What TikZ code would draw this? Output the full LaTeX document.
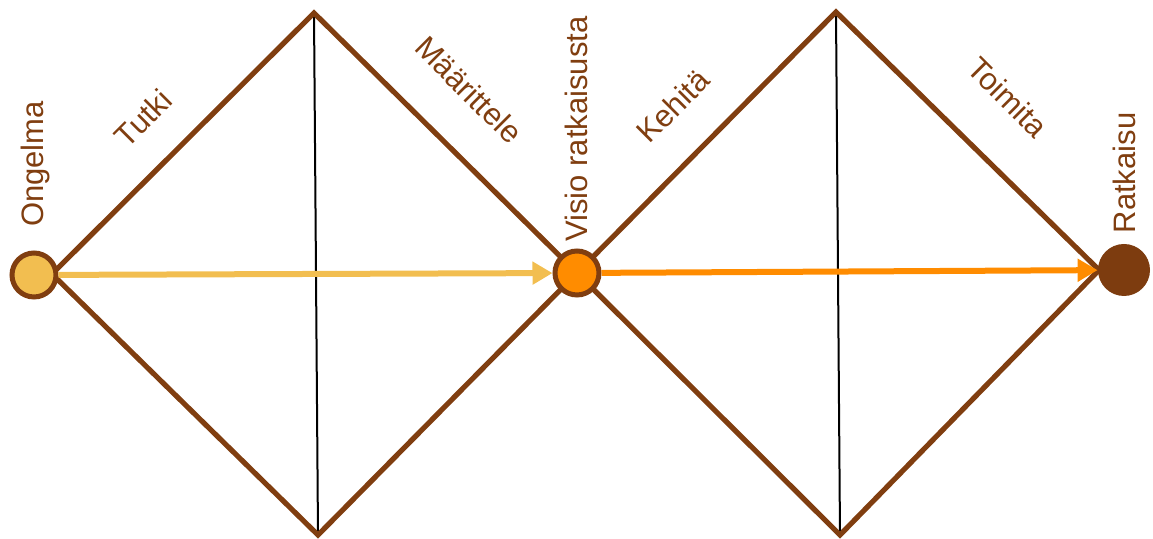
\documentclass[tikz,border=0pt]{standalone}
\usepackage{fontspec}
\setmainfont{Liberation Sans}
\usetikzlibrary{arrows.meta}
\definecolor{ruskea}{RGB}{128,62,16}
\definecolor{keltainen}{RGB}{242,190,80}
\definecolor{oranssi}{RGB}{255,140,0}
\definecolor{tumma}{RGB}{125,60,15}
\tikzset{
	vaihe/.style = {circle, draw = ruskea, line width = 2.5pt, minimum size = 22pt, inner sep = 0pt},
	otsikko/.style = {text = ruskea, font = \fontsize{15.5}{18}\selectfont, inner sep = 0pt},
	reuna/.style = {draw = ruskea, line width = 2.6pt, line join = miter}
}
\begin{document}
\begin{tikzpicture} [x = 0.5pt, y = 0.5pt]
	\useasboundingbox (0,0) rectangle (1153,539);
	% timantit
	\coordinate (a1) at (52,265);
	\coordinate (y1) at (314,526);
	\coordinate (k1) at (577,266);
	\coordinate (b1) at (318,4);
	\coordinate (y2) at (836,527);
	\coordinate (r2) at (1099,269);
	\coordinate (b2) at (840,4);
	\draw [black, line width = 1pt] (y1) -- (b1);
	\draw [black, line width = 1pt] (y2) -- (b2);
	\draw [reuna] (a1) -- (y1) -- (k1) -- (b1) -- cycle;
	\draw [reuna] (k1) -- (y2) -- (r2) -- (b2) -- cycle;
	% pisteet
	\node [vaihe, fill = keltainen] (ongelma) at (34,264) {};
	\node [vaihe, fill = oranssi] (visio) at (577,266) {};
	\node [circle, fill = tumma, minimum size = 26pt, inner sep = 0pt] (ratkaisu) at (1124,269) {};
	% nuolet
	\draw [keltainen, line width = 3pt, -{Triangle[length = 10pt, width = 11pt]}] (ongelma) -- (visio);
	\draw [oranssi, line width = 3pt, -{Triangle[length = 10pt, width = 11pt]}] (visio) -- (ratkaisu);
	% tekstit
	\node [otsikko, rotate = 90] (t1) at (35,375) {Ongelma};
	\node [otsikko, rotate = 90] (t2) at (576,410) {Visio ratkaisusta};
	\node [otsikko, rotate = 90] (t3) at (1124,366) {Ratkaisu};
	\node [otsikko, rotate = 45] (t4) at (143,421) {Tutki};
	\node [otsikko, rotate = -45] (t5) at (469,449) {Määrittele};
	\node [otsikko, rotate = 45] (t6) at (673,433) {Kehitä};
	\node [otsikko, rotate = -45] (t7) at (1008,442) {Toimita};
\end{tikzpicture}
\end{document}
